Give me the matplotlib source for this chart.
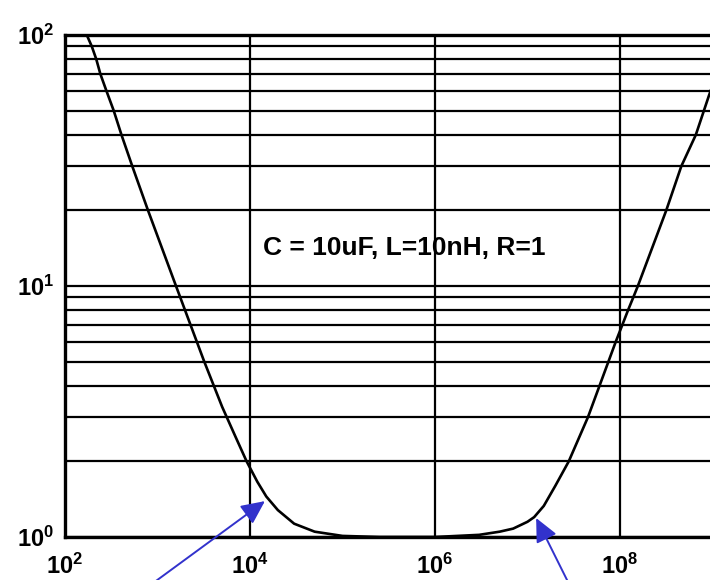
import numpy as np
import matplotlib
matplotlib.use('Agg')
import matplotlib.pyplot as plt
from matplotlib.ticker import LogLocator, FixedLocator, NullFormatter

plt.rcParams['font.family'] = 'Liberation Sans'
plt.rcParams['mathtext.fontset'] = 'custom'
plt.rcParams['mathtext.rm'] = 'Liberation Sans:bold'
plt.rcParams['mathtext.bf'] = 'Liberation Sans:bold'

# |Z| of the series RLC (C = 10uF, L = 10nH, R = 1), read point by point
freq = [172, 195, 218, 241, 280, 336, 408, 534, 790, 1585, 3200, 5000, 7000,
        9200, 1.2e4, 1.5e4, 2e4, 3e4, 5e4, 1e5, 2.5e5, 1e6, 3e6, 5e6, 7e6, 1e7,
        1.18e7, 1.5e7, 2e7, 2.79e7, 4.5e7, 6.0e7, 7.5e7, 9.0e7, 1.06e8, 1.22e8,
        1.39e8, 1.56e8, 3.16e8, 4.6e8, 6.6e8, 9.1e8, 1e9]
imped = [100, 90, 80, 70, 60, 50, 40, 30, 20, 10, 5, 3.3, 2.5,
         2, 1.66, 1.45, 1.28, 1.13, 1.05, 1.01, 1.0, 1.0, 1.02, 1.05, 1.08, 1.15,
         1.2, 1.33, 1.6, 2, 3, 4, 5, 6, 7, 8,
         9, 10, 20, 30, 40, 57, 63]

xticks = [1e2, 1e4, 1e6, 1e8]
xlabels = ['$\\mathbf{10^{2}}$', '$\\mathbf{10^{4}}$', '$\\mathbf{10^{6}}$', '$\\mathbf{10^{8}}$']
yticks = [1, 10, 100]
ylabels = ['$\\mathbf{10^{0}}$', '$\\mathbf{10^{1}}$', '$\\mathbf{10^{2}}$']

fig = plt.figure(figsize=(7.1, 5.8), dpi=100)
ax = fig.add_axes([65/710, 1 - 537/580, 647.5/710, 502/580])

ax.loglog(freq, imped, color='black', linewidth=1.9, solid_capstyle='round',
          solid_joinstyle='round')

ax.set_xlim(1e2, 1e9)
ax.set_ylim(1, 100)

ax.xaxis.set_major_locator(FixedLocator(xticks))
ax.set_xticklabels(xlabels)
ax.xaxis.set_minor_locator(FixedLocator([]))
ax.yaxis.set_major_locator(FixedLocator(yticks))
ax.set_yticklabels(ylabels)
ax.yaxis.set_minor_locator(LogLocator(base=10, subs=np.arange(2, 10)))
ax.yaxis.set_minor_formatter(NullFormatter())

ax.tick_params(which='both', length=0, labelsize=17)
ax.tick_params(axis='x', pad=12)
ax.tick_params(axis='y', pad=8)

# grid: vertical only at the labelled decades, horizontal at every sub-decade
ax.grid(True, axis='x', which='major', color='black', linewidth=1.6)
ax.grid(True, axis='y', which='both', color='black', linewidth=1.6)
for s in ax.spines.values():
    s.set_linewidth(2.4)

ax.text(0.524, 0.576, 'C = 10uF, L=10nH, R=1', transform=ax.transAxes,
        ha='center', va='center', fontsize=19, fontweight='bold')

# arrows pointing at the corner frequencies
blue = '#3232cc'
aprops = dict(arrowstyle='-|>,head_length=0.72,head_width=0.34', color=blue,
              lw=1.4, mutation_scale=20, shrinkA=0, shrinkB=0)
ax.annotate('', xy=(1.45e4, 1.39), xytext=(130, -20), textcoords='figure pixels',
            arrowprops=aprops, annotation_clip=False)
ax.annotate('', xy=(1.24e7, 1.19), xytext=(577, -20), textcoords='figure pixels',
            arrowprops=aprops, annotation_clip=False)

plt.savefig('out.png', dpi=100)
